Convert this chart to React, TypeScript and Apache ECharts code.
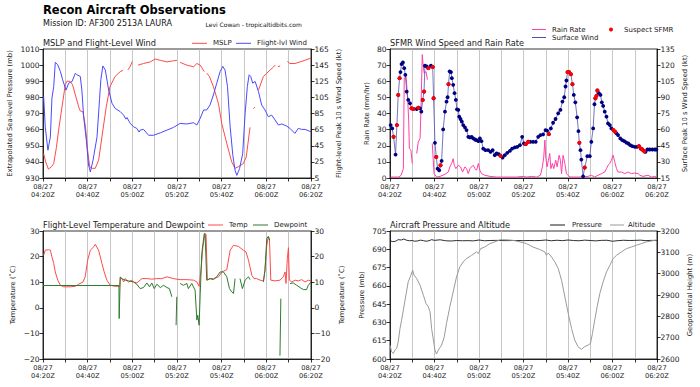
import React, { useEffect, useRef } from "react";
import * as echarts from "echarts";

const FONT = "DejaVu Sans";
const dateLabel = "08/27";
const timeLabels = ["04:20Z", "04:40Z", "05:00Z", "05:20Z", "05:40Z", "06:00Z", "06:20Z"];

// minutes after 04:20Z, value (null = gap)
const mslp: [number, number | null][] = [
  [0.3, 945], [1.2, 940], [2.4, 935.5], [3.8, 937], [4.8, 939], [6, 949], [7, 959.7], [8.5, 974], [10, 988], [10.7, 990],
  [12, 990], [13.2, 988], [14.5, 981.5], [16, 974], [16.7, 971.6], [17.9, 971], [19, 962], [20, 947], [20.9, 937], [22, 936],
  [23.4, 936], [24.9, 941], [26.4, 955.6], [28.3, 974], [30, 986.7], [32.3, 993], [34.6, 996], [35.8, 996.7], [37, null],
  [38, 997], [39, 999], [40, 1002.3], [41, null], [42.5, 1000], [45, 1001], [48, 1002], [50.2, 1003.8], [52.5, 1003],
  [55.5, 1002], [58.4, 1002.7], [60, 1003], [60.7, null], [61.4, 1001.7], [64.4, 1000], [67.4, 999], [68.9, 1001], [70.4, 1000],
  [72.2, 996], [72.8, null], [73.3, 995], [74.5, 993], [76.3, 986.7], [78.6, 976], [80, 964], [82.3, 951.4], [84.5, 940],
  [86, 936], [87.5, 937], [89.7, 939], [91, 943], [92.7, 961.4], [93.5, null], [94.2, 973], [94.9, 974], [95.7, null],
  [96.5, 984.6], [98.7, 993], [100.2, 995], [101.7, 997], [103.2, 998.8], [104, 1000], [104.6, null], [105.2, 999], [106.2, 999.5],
  [107.5, null], [109.4, 1002.3], [110.6, 1001], [112.8, 1001], [115.1, 1002], [117.3, 1003], [120, 1004.4],
];

const flWind: [number, number][] = [
  [0.3, 106], [1, 68.6], [2.2, 39.5], [3.3, 56], [4, 104], [4.8, 118.5], [5.5, 148.4], [6.6, 145.5], [7.8, 137], [8.8, 126.8],
  [10.3, 114], [11.5, 122.6], [13, 124.7], [14.5, 135], [15.2, 133], [16.7, 131], [17.4, 114], [18.2, 81], [19.4, 52], [20.4, 21],
  [21.2, 12.5], [22.4, 27], [24.2, 56], [25.3, 102], [25.9, 126.8], [26.8, 144], [27.9, 139], [29.4, 114], [30.9, 97.7], [32.3, 91.4],
  [34.6, 87.3], [36.1, 83], [37.1, 78], [37.6, 80], [39, 73], [40.5, 68.6], [42, 66.5], [43, 62], [43.5, 64.4], [45, 65.3],
  [47.3, 58], [49.5, 58], [52.5, 61], [55.5, 64.4], [58.4, 67.7], [61.4, 72.7], [64.4, 72], [67.4, 73.6], [68.9, 70.7], [70.4, 79],
  [71.9, 89.4], [73.3, 89.4], [74.8, 95.6], [76.3, 108], [77.8, 122.6], [79.3, 137], [80.5, 143.4], [81.5, 139], [82.6, 118.5],
  [83.8, 68.6], [85, 33], [86, 14.5], [86.8, 8.3], [88, 16.6], [89.4, 35], [90.5, 85], [91.5, 118.5], [92.3, 133], [93, 131],
  [93.9, 122.6], [95, 124.7], [96.5, 112], [97.9, 95.6], [99.4, 89.4], [100.9, 81], [102.4, 83], [103.9, 77], [105.4, 70.7],
  [106.9, 72], [109.1, 69.4], [110.6, 66.5], [112.8, 60.3], [114.3, 66.5], [115.8, 65.3], [117.3, 65.3], [120, 62.3],
];

const rainRate: [number, number | null][] = [
  [0.3, 0.6], [2, 0.6], [4, 0.6], [5, 1.7], [6, 5.8], [6.4, 62], [7.2, 63], [7.8, 52.6], [8.4, 36], [8.7, 18.3], [9.4, 17.2],
  [10, 9], [11, null], [12, 15.2], [12.7, 22.4], [13.5, 24.5], [13.9, 42], [14.5, 76.5], [14.95, 69], [15.4, 65], [16.2, 66],
  [16.8, 61], [18, null], [19, 21.4], [19.8, 2.7], [21, 0.6], [22.5, 1], [24.7, 2.3], [26.2, 3.7], [26.9, 6.9], [27.7, 9],
  [28.4, 12], [28.9, 7.9], [29.6, 5.8], [30.7, 7.9], [31.7, 6.9], [32.6, 3.7], [33.7, 6.9], [34.4, 5.8], [35.2, 2.7], [35.9, 5.8],
  [37.4, 7.9], [38.2, 5.8], [38.9, 4.8], [39.7, 9], [40.4, 4.8], [41.1, 2.7], [42.6, 1.7], [44.9, 1], [47.9, 0.6], [50.9, 0.6],
  [53.9, 0.6], [56.9, 0.6], [59.9, 1], [61.4, 0.6], [63.6, 1], [65.9, 0.6], [67.6, 1.7], [68.5, 6.9], [69.1, 13], [69.6, 23.5],
  [70, 13], [70.6, 6.9], [71.2, 11], [71.8, 15.2], [72.3, 5.8], [73, 9], [73.6, 5.8], [74.5, 11], [75.1, 6.9], [76, 14.1],
  [76.6, 11], [77.1, 2.7], [77.8, 14.1], [78.6, 9], [79.3, 2.7], [80.8, 0.6], [83.8, 0.6], [86.8, 0.6], [89, 1], [90.5, 1.7],
  [92, 0.6], [93.5, 1.7], [95, 2.7], [96.5, 3.7], [97.3, 5.8], [98, 7.9], [98.8, 9], [99.5, 11], [100.3, 14.1], [101, 10],
  [101.8, 5.8], [102.5, 3.7], [104, 3.7], [105.5, 2.7], [107, 3.7], [108.5, 2.7], [110, 3.1], [111.5, 2.7], [112.3, 1.7],
  [113.7, 1], [116, 1.7], [117.5, 0.6], [119, 1], [119.7, 0.6],
];

const sfmrWind: [number, number][] = [
  [0.3, 64.2], [1, 61.1], [1.6, 53.3], [2.5, 36.8], [3.1, 64.2], [3.7, 92.3], [4.3, 107.9], [4.7, 113.5], [5.2, 121], [5.8, 122.5],
  [6.4, 117.2], [6.9, 111], [7.5, 95.4], [8.2, 87.6], [9, 84.5], [9.7, 79.8], [10.5, 79.2], [12, 79.2], [12.7, 80.4], [13.5, 79.8],
  [14.1, 76.7], [14.7, 87.6], [15.3, 95.4], [15.7, 119.4], [16.5, 118.8], [17.2, 117.2], [18.4, 119.4], [19.2, 118.2], [19.6, 89.2],
  [20.2, 47.7], [20.8, 34.6], [21.4, 23.7], [22.1, 22.2], [22.7, 26.8], [23.2, 30.9], [23.9, 60.2], [24.7, 76.7], [25.4, 86],
  [25.9, 90.1], [26.3, 102.3], [26.8, 114.1], [27.4, 113.5], [27.8, 107.9], [28.4, 101.7], [29, 93.9], [29.6, 87.6], [30.1, 78.9],
  [30.7, 78.3], [31.1, 72], [31.7, 69.9], [32.3, 67.4], [32.9, 64.2], [33.7, 62], [34.4, 59.6], [35.2, 53.3], [35.9, 52.7],
  [36.7, 53.3], [37.4, 51.8], [38.2, 50.8], [38.9, 50.2], [39.7, 49.3], [40.4, 51.8], [41.1, 49.3], [41.9, 42.4], [42.9, 40.9],
  [44.1, 40.9], [45.2, 39.3], [46.1, 40.9], [47.1, 36.2], [47.9, 37.8], [48.9, 37.1], [49.7, 35.6], [50.6, 34], [51.6, 36.2],
  [52.7, 38.4], [53.9, 40.2], [54.9, 42.4], [56.1, 43.4], [57.2, 44], [58.4, 45.5], [59.4, 53.3], [60.2, 47.1], [61, 46.5],
  [62.1, 48.7], [63.1, 48.7], [64.3, 48.7], [65.5, 48.7], [66.6, 53.3], [67.6, 54.9], [68.8, 55.5], [69.9, 59.6], [70.6, 59],
  [71.4, 55.8], [72.3, 61.1], [73.3, 66.4], [74.4, 69.9], [75.6, 75.2], [76.6, 78.3], [77.5, 86.1], [78.3, 90.1], [78.9, 100.1],
  [79.3, 105.7], [79.8, 113.5], [80.5, 113.5], [81.3, 111.6], [82, 102.3], [82.6, 92.3], [83.3, 85.4], [84.1, 71.4], [84.7, 58.6],
  [85.1, 47.7], [85.6, 40.9], [86, 32.1], [86.8, 16.6], [87.5, 24.7], [88.7, 35.3], [89.8, 35.3], [90.5, 48.7], [91.3, 61.1],
  [91.9, 83.6], [92.3, 89.2], [92.8, 91.4], [93.2, 96.4], [93.9, 93.9], [94.6, 92.3], [95.2, 85.4], [95.8, 82], [96.5, 76.7],
  [97.3, 72], [98, 65.8], [98.8, 64.2], [99.5, 61.1], [100.4, 59.6], [101.2, 58], [101.8, 56.5], [102.5, 54.9], [103.5, 51.8],
  [104.4, 50.2], [105.3, 49.3], [106.2, 48], [107.1, 47.1], [108, 45.5], [108.9, 44.6], [110, 44], [111, 44], [111.9, 44.6],
  [112.7, 42.4], [113.4, 41.5], [114.3, 39.9], [114.8, 39.3], [115.7, 41.5], [116.7, 41.5], [117.9, 41.5], [119, 41.5], [119.7, 41.5],
];

// times (minutes after 04:20Z) of the SFMR points flagged as suspect
const suspectTimes: number[] = [
  1.6, 3.1, 3.7, 4.3, 9.7, 10.5, 12.7, 14.7, 15.3, 17.2, 19.2, 19.6, 20.8, 22.7, 26.3, 49.7, 61, 62.1, 71.4,
  79.8, 80.5, 81.3, 82, 85.1, 87.5, 92.3, 92.8, 93.2, 100.4, 101.2, 111.9, 112.7, 113.4, 114.3,
];

const temp: [number, number | null][] = [
  [0.3, 20.5], [1, 22.5], [2.5, 22.7], [3.3, 22.5], [4, 19.9], [4.8, 17.3], [5.5, 14], [6.6, 10.8], [7.8, 8.8], [9.2, 8.2],
  [12.2, 8.2], [14.5, 8.4], [16, 9.2], [17.9, 10.1], [18.9, 12.1], [20, 18.6], [21.2, 22.5], [22.7, 23.8], [23.4, 24.8],
  [24.9, 22.5], [26.4, 17.3], [27.4, 14], [28.6, 10.8], [30.1, 8.8], [32.3, 8.4], [34.3, 8.4], [34.6, 12], [35.3, 11.4],
  [36.1, 10.1], [36.8, 11.4], [38.3, 10.1], [39.8, 10.8], [40.5, 10.1], [42, 9.7], [44.3, 11.4], [46.5, 11.4], [48.7, 11.2],
  [51, 11.4], [53.2, 11.4], [55.5, 12.1], [58.4, 11.4], [61.4, 11], [64.4, 11], [67.4, 10.8], [68.9, 10.1], [69.9, 8.4],
  [70.8, 15.3], [71.6, 23.8], [72.5, 29], [73, 28.7], [73.6, 10.8], [74.8, 11.4], [76.3, 11.4], [78.6, 12.1], [80.1, 14],
  [82.3, 14.9], [83.8, 22.5], [85.3, 24.4], [87.5, 24], [89.7, 22.5], [90.9, 21.8], [92, 18.6], [93.5, 12.7], [94.5, 11.4],
  [95.7, 11.4], [97.2, 10.8], [98.7, 10.5], [99.4, 14.7], [100.2, 24.4], [100.9, 27.7], [101.4, 27], [102, 10.8], [103.9, 10.5],
  [106.1, 10.8], [107.6, 12.1], [108.4, 14], [108.8, 9.5], [109.4, 19.2], [109.9, 23.5], [110.3, 10.8], [111.4, 10.1],
  [112.9, 10.8], [114.3, 10.5], [115.8, 11], [117.3, 10.1], [118.8, 10.8], [120, 10.5],
];

const dewpoint: [number, number | null][] = [
  [0, 8.7], [34, 8.7], [34.1, -4.2], [34.6, 12], [35.3, 11.4], [36.8, 10.8], [38.3, 10.5], [40.5, 10.1], [42, 9.2], [43.5, 7.5],
  [45, 7.9], [46.5, 9.7], [47.7, 8.2], [48.7, 9.7], [49.8, 7.5], [51, 9.2], [52.5, 7.9], [54, 8.8], [55.5, 7.9], [56.6, 7.5],
  [57.7, 4.3], [58.6, null], [59.6, -6.8], [59.9, 4.3], [60.6, null], [61.4, 9.5], [62.9, 8.8], [64.4, 9.5], [65.1, 7.5],
  [66.6, 9.5], [68.1, 6.9], [68.9, -4.8], [69.3, -2.9], [69.9, -6.8], [70.4, 5.6], [71.1, 21.2], [72.2, 29], [72.6, 28.7],
  [73.3, 10.8], [74.8, 11.4], [76.3, 11], [77.8, 12.1], [79.3, 14], [80.8, 14], [82.3, 12.1], [83.5, 7.5], [84.5, 6.2],
  [85.3, 5.6], [86, 11.4], [87, null], [88.2, 11.4], [89.3, 7.5], [90.5, 10.8], [92, 12.1], [92.7, 11], [95, null],
  [98.7, 10.1], [99.4, 14.7], [100.2, 27], [100.9, 27.9], [101.4, 26.4], [103, null], [106.1, -18.7], [106.5, 3.6], [108, null],
  [110.6, 9.5], [112.1, 9.7], [113.6, 8.8], [115.1, 7.9], [116.6, 7.1], [118, 7.1], [118.8, 8.8], [120, 10.1],
];

const acPressure: [number, number][] = [
  [0, 697], [1.2, 696.3], [2.5, 696.6], [3.7, 697.9], [5, 697.6], [6.2, 698.4], [7.5, 697.4], [8.7, 697], [10, 697.2],
  [11.2, 696.6], [12.5, 696.9], [13.7, 697.5], [15, 697.1], [16.2, 696.6], [17.5, 697], [18.7, 697.9], [20, 697.3],
  [22.5, 697.8], [25, 697], [27.5, 696.8], [30, 697.2], [32.5, 697], [35, 697.1], [37.5, 696.9], [40, 697.6], [42.5, 697],
  [45, 697.2], [47.5, 697.3], [50, 697.2], [52.5, 697.1], [55, 697.2], [57.5, 697.2], [60, 697.1], [62.5, 697.2], [65, 697.1],
  [67.5, 697.2], [70, 697.6], [72.5, 697], [75, 697.4], [77.5, 697.1], [80, 697.6], [82.5, 697.2], [85, 697], [87.5, 697.5],
  [90, 697.2], [92.5, 696.9], [95, 697.3], [97.5, 697.4], [100, 696.6], [102.5, 697.1], [105, 697.4], [107.5, 697.2],
  [110, 697.3], [112.5, 697.5], [115, 697.1], [117.5, 697.3], [120, 697.2],
];

const altitude: [number, number][] = [
  [0, 2665], [0.7, 2634], [1.5, 2626], [2.2, 2642], [3, 2650], [3.7, 2681], [4.5, 2743], [5.2, 2782], [6, 2829], [7, 2891],
  [8.2, 2962], [9.4, 2993], [10.2, 3016], [10.8, 2993], [12, 2977], [13.5, 2946], [15, 2899], [16.2, 2860], [17.2, 2845],
  [18, 2821], [18.7, 2743], [19.5, 2689], [20.2, 2642], [20.9, 2623], [21.7, 2642], [23.2, 2665], [24.4, 2704], [25.4, 2767],
  [26.9, 2845], [28.4, 2915], [29.9, 2985], [31.4, 3032], [32.9, 3055], [34.4, 3071], [36.7, 3086], [38.9, 3102], [39.7, 3094],
  [40.7, 3117], [42.6, 3125], [44.9, 3141], [47.1, 3149], [49.4, 3159], [52.4, 3159], [55.4, 3156], [58.4, 3149], [61.3, 3141],
  [64.3, 3125], [67.3, 3113], [69.6, 3102], [70.3, 3086], [71.1, 3097], [72.6, 3078], [74.1, 3055], [75.6, 3024], [77.1, 2969],
  [78.6, 2891], [80.1, 2814], [81.6, 2743], [83, 2689], [84.5, 2658], [86, 2645], [87.5, 2658], [89, 2665], [90.1, 2673],
  [91, 2720], [92, 2782], [93.1, 2845], [94.3, 2907], [95.8, 2962], [97.3, 3008], [98.8, 3039], [100.3, 3071], [101.8, 3086],
  [104, 3102], [106.2, 3117], [108.5, 3125], [110.7, 3133], [113, 3141], [115.2, 3149], [117.5, 3153], [120, 3159],
];

const C = {
  mslp: "#ff4a4a",
  wind: "#4a4aff",
  rain: "#ff40a8",
  sfmrLine: "#5050b0",
  sfmrDot: "#000080",
  suspect: "#ff0000",
  temp: "#ff4a4a",
  dew: "#2f7a2f",
  pres: "#1a1a1a",
  alt: "#9a9a9a",
};

const gaps = (arr: [number, number | null][]) => arr.map(([t, v]) => [t, v === null ? "-" : v]);

function xAx(gridIndex: number) {
  return {
    type: "value",
    gridIndex,
    min: 0,
    max: 120,
    interval: 10,
    axisLine: { show: true, onZero: false, lineStyle: { color: "#000", width: 0.8 } },
    axisTick: { show: true, length: 3.5, lineStyle: { color: "#000", width: 0.8 } },
    axisLabel: {
      fontSize: 6.7,
      fontFamily: FONT,
      color: "#222",
      margin: 4.5,
      lineHeight: 8.3,
      formatter: (v: number) => (v % 20 === 0 ? dateLabel + "\n" + timeLabels[v / 20] : ""),
    },
    splitLine: { show: true, lineStyle: { color: "#b8b8b8", width: 0.8 } },
  };
}

function yAx(gridIndex: number, position: string, min: number, max: number, interval: number, name: string, nameGap: number) {
  return {
    type: "value",
    gridIndex,
    position,
    min,
    max,
    interval,
    name,
    nameLocation: "middle",
    nameGap,
    nameTextStyle: { fontSize: 6.8, fontFamily: FONT, color: "#222" },
    axisLine: { show: true, onZero: false, lineStyle: { color: "#000", width: 0.8 } },
    axisTick: { show: true, length: 3.5, lineStyle: { color: "#000", width: 0.8 } },
    axisLabel: {
      fontSize: 7.5,
      fontFamily: FONT,
      color: "#222",
      margin: 3.5,
      formatter: (v: number) => (v < 0 ? "\u2212" + -v : String(v)),
    },
    splitLine: { show: false },
  };
}

function line(x: number, y: number, data: any[], color: string, width = 1) {
  return {
    type: "line",
    xAxisIndex: x,
    yAxisIndex: y,
    data,
    symbol: "none",
    showSymbol: false,
    connectNulls: false,
    lineStyle: { color, width },
    silent: true,
  };
}

function legLine(x1: number, x2: number, y: number, color: string) {
  return { type: "line", shape: { x1, y1: y, x2, y2: y }, style: { stroke: color, lineWidth: 1 }, silent: true };
}
function txt(x: number, y: number, text: string, fontSize: number, weight = "normal", fill = "#222") {
  return {
    type: "text",
    x,
    y,
    silent: true,
    style: { text, fontSize, fontFamily: FONT, fontWeight: weight, fill, verticalAlign: "middle", align: "left" },
  };
}

export default function App() {
  const ref = useRef<HTMLDivElement>(null);
  useEffect(() => {
    if (!ref.current) return;
    const chart = echarts.init(ref.current, null, { renderer: "svg" });
    const suspectPts = sfmrWind.filter(([t]) => suspectTimes.indexOf(t) >= 0);
    const grid = (left: number, top: number, width: number, height: number) => ({
      left, top, width, height, show: true, borderColor: "#000", borderWidth: 0.8, backgroundColor: "transparent",
    });
    chart.setOption({
      animation: false,
      backgroundColor: "#fff",
      grid: [grid(43, 49, 268, 129), grid(390, 49, 267, 129), grid(43, 231, 268, 128), grid(390, 231, 267, 128)],
      xAxis: [xAx(0), xAx(1), xAx(2), xAx(3)],
      yAxis: [
        yAx(0, "left", 930, 1010, 10, "Extrapolated Sea-level Pressure (mb)", 30),
        yAx(0, "right", 5, 165, 20, "Flight-level Peak 10 s Wind Speed (kt)", 24),
        yAx(1, "left", 0, 80, 10, "Rain Rate (mm/hr)", 20),
        yAx(1, "right", 15, 135, 15, "Surface Peak 10 s Wind Speed (kt)", 24),
        yAx(2, "left", -20, 30, 10, "Temperature (\u02daC)", 27),
        yAx(2, "right", -20, 30, 10, "Temperature (\u02daC)", 27),
        yAx(3, "left", 600, 705, 15, "Pressure (mb)", 25),
        yAx(3, "right", 2600, 3200, 100, "Geopotential Height (m)", 29),
      ],
      series: [
        line(0, 0, gaps(mslp), C.mslp),
        line(0, 1, flWind, C.wind),
        line(1, 2, gaps(rainRate), C.rain),
        {
          type: "line",
          xAxisIndex: 1,
          yAxisIndex: 3,
          data: sfmrWind,
          symbol: "circle",
          symbolSize: 3.8,
          showSymbol: true,
          showAllSymbol: true,
          itemStyle: { color: C.sfmrDot },
          lineStyle: { color: C.sfmrLine, width: 0.8 },
          z: 3,
          silent: true,
        },
        {
          type: "scatter",
          xAxisIndex: 1,
          yAxisIndex: 3,
          data: suspectPts,
          symbol: "circle",
          symbolSize: 4,
          itemStyle: { color: C.suspect, opacity: 1 },
          z: 10,
          silent: true,
        },
        line(2, 4, gaps(temp), C.temp),
        line(2, 4, gaps(dewpoint), C.dew),
        line(3, 6, acPressure, C.pres, 0.9),
        line(3, 7, altitude, C.alt),
      ],
      graphic: [
        txt(43, 10, "Recon Aircraft Observations", 11.5, "bold", "#000"),
        txt(43, 23.5, "Mission ID: AF300 2513A LAURA", 8, "normal", "#111"),
        txt(205.5, 24.5, "Levi Cowan - tropicaltidbits.com", 6, "normal", "#111"),
        txt(43, 43, "MSLP and Flight-Level Wind", 8.2),
        txt(390, 43, "SFMR Wind Speed and Rain Rate", 8.2),
        txt(43, 225, "Flight-Level Temperature and Dewpoint", 8.2),
        txt(390, 225, "Aircraft Pressure and Altitude", 8.2),
        // legend panel 1
        legLine(192, 207, 43.3, C.mslp),
        txt(213, 43.3, "MSLP", 7),
        legLine(236, 251, 43.3, C.wind),
        txt(257, 43.3, "Flight-lvl Wind", 7),
        // legend panel 2
        legLine(532, 546, 29.5, C.rain),
        txt(552, 29.5, "Rain Rate", 7),
        legLine(532, 546, 37.5, C.sfmrLine),
        txt(552, 37.5, "Surface Wind", 7),
        { type: "circle", shape: { cx: 611, cy: 29.5, r: 2 }, style: { fill: C.suspect }, silent: true },
        txt(624, 29.5, "Suspect SFMR", 7),
        // legend panel 3
        legLine(208, 223, 225, C.temp),
        txt(229, 225, "Temp", 7),
        legLine(253, 268, 225, C.dew),
        txt(274, 225, "Dewpoint", 7),
        // legend panel 4
        legLine(550, 565, 225, C.pres),
        txt(572, 225, "Pressure", 7),
        legLine(610, 624, 225, C.alt),
        txt(628, 225, "Altitude", 7),
      ],
    });
    return () => chart.dispose();
  }, []);
  return (
    <div
      ref={ref}
      style={{ position: "fixed", left: 0, top: 0, width: 700, height: 387, background: "#fff" }}
    />
  );
}
